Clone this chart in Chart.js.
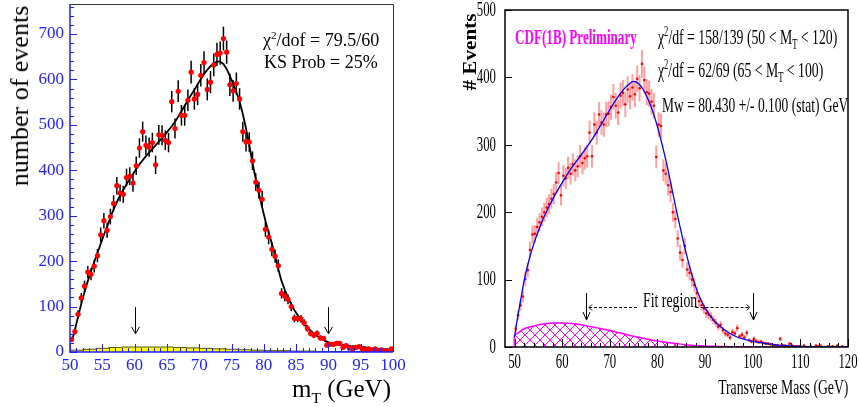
<!DOCTYPE html>
<html><head><meta charset="utf-8">
<script src="https://cdn.jsdelivr.net/npm/chart.js@4"></script>
<style>
html,body{margin:0;padding:0;background:#fff;}
#wrap{position:relative;width:859px;height:407px;overflow:hidden;font-family:"Liberation Serif","Times New Roman",serif;}
canvas{position:absolute;top:0;}
.t{position:absolute;white-space:nowrap;line-height:1;color:#000;}
sup,sub{font-size:62%;line-height:0;}
</style></head><body>
<div id="wrap">
<canvas id="c1" width="425" height="407" style="left:0"></canvas>
<canvas id="c2" width="429" height="407" style="left:430px"></canvas>

<div class="t" style="left:20px;top:96px;font-size:26px;transform:translate(-50%,-50%) rotate(-90deg);">number of events</div>
<div class="t" style="right:468px;top:388px;font-size:25px;transform:translateY(-50%);">m<sub>T</sub> (GeV)</div>
<div class="t" style="left:263px;top:40px;font-size:18px;transform:translateY(-50%);">χ<sup>2</sup>/dof = 79.5/60</div>
<div class="t" style="left:264px;top:62px;font-size:18px;transform:translateY(-50%);">KS Prob = 25%</div>

<div class="t c" data-w="122" style="left:515px;top:37px;font-size:20px;font-weight:bold;color:#ff00ff;">CDF(1B) Preliminary</div>
<div class="t c" data-w="179" style="left:658px;top:37px;font-size:22px;">χ<sup>2</sup>/df = 158/139 (50 &lt; M<sub>T</sub> &lt; 120)</div>
<div class="t c" data-w="165" style="left:658px;top:70px;font-size:22px;">χ<sup>2</sup>/df = 62/69 (65 &lt; M<sub>T</sub> &lt; 100)</div>
<div class="t c" data-w="186" style="left:662px;top:105px;font-size:22px;">Mw = 80.430 +/- 0.100 (stat) GeV</div>
<div class="t c" data-w="54" style="left:643px;top:300px;font-size:20px;">Fit region</div>
<div class="t cr" data-w="130" style="right:11px;top:387px;font-size:22px;">Transverse Mass (GeV)</div>
<div class="t rot" data-w="77" style="left:469px;top:52px;font-size:19px;font-weight:bold;"># Events</div>
</div>
<script>
// ---------------- LEFT PANEL DATA ----------------
const leftBinStart = 50, leftBinWidth = 0.5;
const leftCounts = [
  28,45,83,119,145,176,171,189,212,258,
  289,268,298,327,366,350,347,384,387,372,
  410,449,485,455,451,461,412,478,477,466,
  461,551,492,574,521,521,554,616,557,567,
  609,637,578,594,632,655,658,690,660,588,
  575,591,557,485,463,462,421,374,356,336,
  270,253,226,211,190,129,123,116,100,74,
  74,73,64,52,41,37,41,31,30,15,
  17,17,19,19,10,14,9,7,10,12,
  7,5,7,3,7,3,5,3,2,7
];
const leftFit = [
  22,48,78,106,132,156,178,198,218,238,
  258,276,296,314,330,344,357,369,381,392,
  403,413,422,431,439,447,455,463,471,479,
  488,497,507,518,530,542,554,566,577,589,
  601,612,621,629,635,639,639,634,623,607,
  590,572,552,524,492,456,416,381,348,318,
  289,263,239,212,182,156,137,120,105,92,
  81,71,62,54,47,41,35,30,26,23,
  20,18,17,16,15,14,13,13,12,12,
  11,10,9,8,8,7,6,6,5,5
];
const leftBgEdges = [50,52,54,56,58,60,62,64,66,68,70,72,74,76,78,80,82,84,86,88,90,92,94,96,98,100];
const leftBgCounts = [2,4,6,8,10,11,11,11,11,10,9,8,7,6,5,4,3,3,2,2,1,1,1,1,1];
const leftXTicks = [50,55,60,65,70,75,80,85,90,95,100];
const leftYTicks = [0,100,200,300,400,500,600,700];
const leftArrowX = [60, 90];
const leftArrowY = [99, 40];

// ---------------- RIGHT PANEL DATA ----------------
const rightBinStart = 50, rightBinWidth = 0.5;
const rightCounts = [
  27,47,62,75,101,114,144,167,168,178,
  185,193,200,207,212,220,227,244,258,225,
  254,250,266,257,271,262,268,283,273,280,
  283,318,283,330,318,345,333,330,345,346,
  356,371,358,348,373,377,360,382,372,385,
  375,398,384,420,396,378,376,364,358,282,
  330,328,262,257,240,230,200,190,161,140,
  129,150,115,110,100,92,80,68,62,57,
  50,48,45,40,36,30,33,25,20,18,
  14,22,20,28,16,18,14,21,10,8,
  12,9,7,8,6,5,5,4,3,3,
  2,12,3,2,1,5,2,1,1,1,
  0,2,0,0,1,0,2,1,2,0,
  0,1,0,1,0,2,0,1,0,0
];
const rightFitX = [50,50.5,51,51.5,52,53,54,55,56,57,58,59,60,62,64,66,68,70,72,73,74,75,76,77,78,79,80,81,82,83,84,85,86,87,88,89,90,92,94,96,98,100,102,104,106,108,110,115,120];
const rightFitY = [15,38,58,78,98,128,152,172,190,205,219,232,244,266,285,305,328,352,374,383,390,394,391,382,368,350,327,300,270,236,202,170,140,113,90,72,58,38,26,17,12,8.5,6,4,2.5,1.5,1,0.3,0];
const rightBgX = [50,50,51,52,54,56,58,60,62,64,66,68,70,72,74,76,78,80,82,84,86,88,90,92,94,96,100,105,110,120];
const rightBgY = [0,17,22,27,31,34,35.5,35.5,35,33,30,27.5,24.5,21,17.5,14.5,11.5,9,7,5,3.5,2.3,1.5,1,0.6,0.4,0.2,0.1,0,0];
const rightXTicks = [50,60,70,80,90,100,110,120];
const rightYTicks = [0,100,200,300,400,500];
const rightArrowX = [65, 100];
const rightArrowY = [80, 40];
const fitRegionY = 60;
const fitRegionGap = [76, 88];

// ---------------- helpers ----------------
const serif = '"Liberation Serif","Times New Roman",serif';
const blue = '#1f1fff';

function binPoints(start, width, vals, dropZero) {
  return vals.map((v, i) => ({x: start + width * (i + 0.5), y: (dropZero && v === 0) ? null : v}));
}
function xyPoints(xs, ys) { return xs.map((x, i) => ({x: x, y: ys[i]})); }

function errorPlugin(idx, color, width) {
  return {
    id: 'errbars',
    beforeDatasetsDraw(chart) {
      const {ctx, chartArea: a, scales: {x, y}} = chart;
      const data = chart.data.datasets[idx].data;
      ctx.save();
      ctx.beginPath(); ctx.rect(a.left, a.top, a.width, a.height); ctx.clip();
      ctx.strokeStyle = color; ctx.lineWidth = width;
      data.forEach(p => {
        if (p.y == null) return;
        const e = Math.sqrt(p.y);
        const px = x.getPixelForValue(p.x);
        ctx.beginPath();
        ctx.moveTo(px, y.getPixelForValue(p.y - e));
        ctx.lineTo(px, y.getPixelForValue(p.y + e));
        ctx.stroke();
      });
      ctx.restore();
    }
  };
}
function downArrow(ctx, px, p1, p2, hw, hl) {
  ctx.beginPath();
  ctx.moveTo(px, p1); ctx.lineTo(px, p2);
  ctx.moveTo(px - hw, p2 - hl); ctx.lineTo(px, p2); ctx.lineTo(px + hw, p2 - hl);
  ctx.stroke();
}
function drawCondensed(ctx, text, x, y, align, sx) {
  ctx.save(); ctx.translate(x, y); ctx.scale(sx, 1);
  ctx.textAlign = align; ctx.textBaseline = 'middle';
  ctx.fillText(text, 0, 0); ctx.restore();
}

// ---------------- LEFT CHART ----------------
const leftFrame = {
  id: 'leftFrame',
  afterDraw(chart) {
    const {ctx, chartArea: a, scales: {x, y}} = chart;
    ctx.save();
    // top/right frame
    ctx.strokeStyle = '#333'; ctx.lineWidth = 1;
    ctx.beginPath();
    ctx.moveTo(a.left, a.top + 0.5); ctx.lineTo(a.right + 0.5, a.top + 0.5); ctx.lineTo(a.right + 0.5, a.bottom);
    ctx.stroke();
    // blue axes
    ctx.strokeStyle = blue; ctx.lineWidth = 1.5;
    ctx.beginPath();
    ctx.moveTo(a.left, a.top); ctx.lineTo(a.left, a.bottom); ctx.lineTo(a.right, a.bottom);
    ctx.stroke();
    ctx.lineWidth = 1;
    ctx.beginPath();
    for (let v = 0; v <= 760; v += 20) {
      const py = Math.round(y.getPixelForValue(v)) + 0.5;
      const len = v % 100 === 0 ? 7 : 4;
      ctx.moveTo(a.left, py); ctx.lineTo(a.left + len, py);
    }
    for (let v = 50; v <= 100; v += 1) {
      const px = Math.round(x.getPixelForValue(v)) + 0.5;
      const len = v % 5 === 0 ? 8 : 4;
      ctx.moveTo(px, a.bottom); ctx.lineTo(px, a.bottom - len);
    }
    ctx.stroke();
    // arrows
    ctx.strokeStyle = '#000'; ctx.lineWidth = 1;
    leftArrowX.forEach(v => {
      const px = Math.round(x.getPixelForValue(v)) + 0.5;
      downArrow(ctx, px, y.getPixelForValue(leftArrowY[0]), y.getPixelForValue(leftArrowY[1]), 4, 7);
    });
    ctx.restore();
  }
};

const leftBgPts = leftBgEdges.map((e, i) => ({x: e, y: leftBgCounts[Math.min(i, leftBgCounts.length - 1)]}));

new Chart(document.getElementById('c1'), {
  type: 'line',
  data: {
    datasets: [
      {label: 'background', data: leftBgPts, stepped: 'after', fill: 'origin', backgroundColor: '#ffff00',
       borderColor: '#555500', borderWidth: 1, pointRadius: 0, order: 4},
      {label: 'fit', data: binPoints(leftBinStart, leftBinWidth, leftFit, false), borderColor: '#000',
       borderWidth: 1.8, pointRadius: 0, fill: false, tension: 0, order: 2},
      {label: 'data', data: binPoints(leftBinStart, leftBinWidth, leftCounts, false), showLine: false,
       pointRadius: 2.6, pointBackgroundColor: '#ff0000', pointBorderWidth: 0, order: 1}
    ]
  },
  options: {
    responsive: false, animation: false, events: [],
    layout: {padding: {left: 0, top: 3, right: 32, bottom: 0}},
    plugins: {legend: {display: false}, tooltip: {enabled: false}},
    scales: {
      x: {
        type: 'linear', min: 50, max: 100,
        afterBuildTicks: s => { s.ticks = leftXTicks.map(v => ({value: v})); },
        afterFit: s => { s.height = 55; s.paddingLeft = 0; s.paddingRight = 0; },
        grid: {display: false, drawTicks: false}, border: {display: false},
        ticks: {color: blue, font: {family: serif, size: 17}, padding: 3, maxRotation: 0, autoSkip: false}
      },
      y: {
        type: 'linear', min: 0, max: 766,
        afterBuildTicks: s => { s.ticks = leftYTicks.map(v => ({value: v})); },
        afterFit: s => { s.width = 70; s.paddingTop = 0; s.paddingBottom = 0; },
        grid: {display: false, drawTicks: false}, border: {display: false},
        ticks: {color: blue, font: {family: serif, size: 17}, padding: 6, autoSkip: false}
      }
    }
  },
  plugins: [errorPlugin(2, '#000', 1.5), leftFrame]
});

// ---------------- RIGHT CHART ----------------
const pc = document.createElement('canvas'); pc.width = 10; pc.height = 10;
const pg = pc.getContext('2d');
pg.strokeStyle = '#ff00ff'; pg.lineWidth = 1;
pg.beginPath(); pg.moveTo(0, 0); pg.lineTo(10, 10); pg.moveTo(10, 0); pg.lineTo(0, 10); pg.stroke();
const hatch = pg.createPattern(pc, 'repeat');

const rightFrame = {
  id: 'rightFrame',
  afterDraw(chart) {
    const {ctx, chartArea: a, scales: {x, y}} = chart;
    ctx.save();
    ctx.strokeStyle = '#000'; ctx.lineWidth = 1.5;
    ctx.strokeRect(a.left, a.top, a.right - a.left, a.bottom - a.top);
    ctx.lineWidth = 1;
    ctx.beginPath();
    rightYTicks.forEach(v => {
      const py = Math.round(y.getPixelForValue(v)) + 0.5;
      ctx.moveTo(a.left, py); ctx.lineTo(a.left + 7, py);
    });
    for (let v = 50; v <= 120; v += 2) {
      const px = Math.round(x.getPixelForValue(v)) + 0.5;
      const len = v % 10 === 0 ? 8 : 4;
      ctx.moveTo(px, a.bottom); ctx.lineTo(px, a.bottom - len);
    }
    ctx.stroke();
    // tick labels (condensed serif)
    ctx.fillStyle = '#000';
    ctx.font = '22px ' + serif;
    x.ticks.forEach(t => drawCondensed(ctx, String(t.value), x.getPixelForValue(t.value), a.bottom + 15, 'center', 0.58));
    y.ticks.forEach(t => drawCondensed(ctx, String(t.value), a.left - 9, y.getPixelForValue(t.value), 'right', 0.58));
    // fit region arrows
    ctx.strokeStyle = '#000'; ctx.lineWidth = 1;
    rightArrowX.forEach(v => {
      const px = Math.round(x.getPixelForValue(v)) + 0.5;
      downArrow(ctx, px, y.getPixelForValue(rightArrowY[0]), y.getPixelForValue(rightArrowY[1]), 3.5, 8);
    });
    const yy = Math.round(y.getPixelForValue(fitRegionY)) + 0.5;
    const xa = x.getPixelForValue(rightArrowX[0]) + 3, xb = x.getPixelForValue(rightArrowX[1]) - 3;
    ctx.setLineDash([3, 2]);
    ctx.beginPath();
    ctx.moveTo(xa, yy); ctx.lineTo(x.getPixelForValue(fitRegionGap[0]), yy);
    ctx.moveTo(x.getPixelForValue(fitRegionGap[1]), yy); ctx.lineTo(xb, yy);
    ctx.stroke();
    ctx.setLineDash([]);
    ctx.beginPath();
    ctx.moveTo(xa + 3, yy - 3); ctx.lineTo(xa, yy); ctx.lineTo(xa + 3, yy + 3);
    ctx.moveTo(xb - 3, yy - 3); ctx.lineTo(xb, yy); ctx.lineTo(xb - 3, yy + 3);
    ctx.stroke();
    ctx.restore();
  }
};

new Chart(document.getElementById('c2'), {
  type: 'line',
  data: {
    datasets: [
      {label: 'background', data: xyPoints(rightBgX, rightBgY), fill: 'origin', backgroundColor: hatch,
       borderColor: '#ff00ff', borderWidth: 1.5, pointRadius: 0, tension: 0.25, order: 4},
      {label: 'data', data: binPoints(rightBinStart, rightBinWidth, rightCounts, true), showLine: false,
       pointRadius: 1.3, pointBackgroundColor: '#ff0000', pointBorderWidth: 0, order: 2},
      {label: 'fit', data: xyPoints(rightFitX, rightFitY), borderColor: '#0000ff', borderWidth: 1.3,
       pointRadius: 0, fill: false, cubicInterpolationMode: 'monotone', order: 1}
    ]
  },
  options: {
    responsive: false, animation: false, events: [],
    layout: {padding: {left: 0, top: 10, right: 11, bottom: 0}},
    plugins: {legend: {display: false}, tooltip: {enabled: false}},
    scales: {
      x: {
        type: 'linear', min: 48, max: 120,
        afterBuildTicks: s => { s.ticks = rightXTicks.map(v => ({value: v})); },
        afterFit: s => { s.height = 60; s.paddingLeft = 0; s.paddingRight = 0; },
        grid: {display: false, drawTicks: false}, border: {display: false},
        ticks: {display: false}
      },
      y: {
        type: 'linear', min: 0, max: 500,
        afterBuildTicks: s => { s.ticks = rightYTicks.map(v => ({value: v})); },
        afterFit: s => { s.width = 75; s.paddingTop = 0; s.paddingBottom = 0; },
        grid: {display: false, drawTicks: false}, border: {display: false},
        ticks: {display: false}
      }
    }
  },
  plugins: [errorPlugin(1, 'rgba(255,80,80,0.55)', 2), rightFrame]
});

// ---------------- condensed HTML text ----------------
document.querySelectorAll('.c, .cr, .rot').forEach(el => {
  const s = (+el.dataset.w) / el.offsetWidth;
  if (el.classList.contains('rot')) {
    el.style.transform = 'translate(-50%,-50%) rotate(-90deg) scaleX(' + s + ')';
  } else if (el.classList.contains('cr')) {
    el.style.transformOrigin = 'right center';
    el.style.transform = 'translateY(-50%) scaleX(' + s + ')';
  } else {
    el.style.transformOrigin = 'left center';
    el.style.transform = 'translateY(-50%) scaleX(' + s + ')';
  }
});
</script>
</body></html>
